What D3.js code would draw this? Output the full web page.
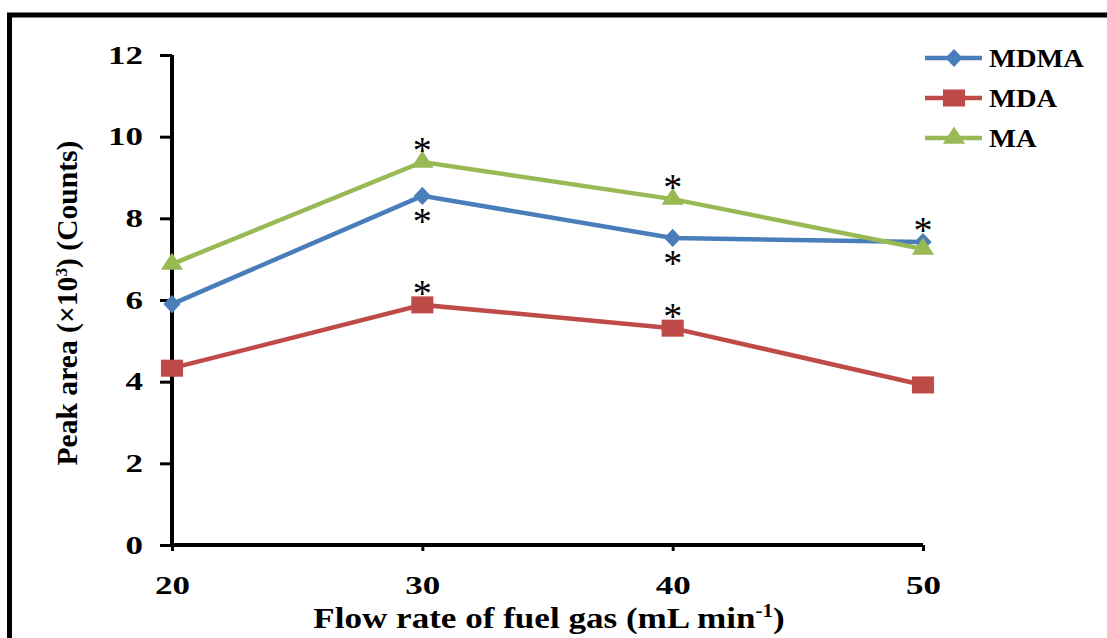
<!DOCTYPE html>
<html>
<head>
<meta charset="utf-8">
<script src="https://cdn.jsdelivr.net/npm/d3@7"></script>
<style>
  body { margin: 0; background: #fff; }
  text { font-family: "Liberation Serif", "Times New Roman", serif; font-weight: bold; }
</style>
</head>
<body>
<script>
// data
var flowRates = [20, 30, 40, 50];
var mdma = [5.90, 8.55, 7.52, 7.42];
var mda = [4.33, 5.88, 5.31, 3.92];
var ma = [6.88, 9.38, 8.47, 7.25];
var yTicks = [0, 2, 4, 6, 8, 10, 12];
// significance marks: [series, x, above?]
var stars = [
    ["MA", 30, true], ["MDMA", 30, false], ["MDA", 30, true],
    ["MA", 40, true], ["MDMA", 40, false], ["MDA", 40, true],
    ["MDMA", 50, true]
];

var w = 1107, h = 638;
var svg = d3.select("body").append("svg")
    .attr("width", w)
    .attr("height", h);

// outer frame (cut off at right and bottom like the original)
svg.append("rect")
    .attr("x", 9.5).attr("y", 15)
    .attr("width", 1200).attr("height", 700)
    .attr("fill", "none")
    .attr("stroke", "#000")
    .attr("stroke-width", 5);

var x = d3.scaleLinear().domain([20, 50]).range([172, 923]);
var y = d3.scaleLinear().domain([0, 12]).range([545, 55]);

var series = [
    { name: "MDMA", values: mdma, color: "#4a7ebb", shape: d3.symbolDiamond, size: 95, sx: 1.65 },
    { name: "MDA", values: mda, color: "#be4b48", shape: d3.symbolSquare, size: 290, sx: 1.3 },
    { name: "MA", values: ma, color: "#98b954", shape: d3.symbolTriangle, size: 170, sx: 1.12 }
];

// tick labels in the original are stretched sideways
function stretchLabels(sel){
    sel.attr("font-size", 26).attr("fill", "#000")
        .attr("textLength", function(d){ return String(d).length * 17.5; })
        .attr("lengthAdjust", "spacingAndGlyphs");
}

// y axis
var yAxis = svg.append("g")
    .attr("transform", "translate(172,0)")
    .call(d3.axisLeft(y).tickValues(yTicks).tickSize(12).tickPadding(17));
yAxis.select(".domain").attr("stroke-width", 4).attr("d", "M0,55V545");
yAxis.selectAll(".tick line").attr("stroke-width", 3);
yAxis.selectAll(".tick text").call(stretchLabels);

// x axis
var xAxis = svg.append("g")
    .attr("transform", "translate(0,545)")
    .call(d3.axisBottom(x).tickValues(flowRates).tickSize(6).tickPadding(25));
xAxis.select(".domain").attr("stroke-width", 4).attr("d", "M172,0H923");
xAxis.selectAll(".tick line").attr("stroke-width", 3);
xAxis.selectAll(".tick text").call(stretchLabels);

// axis titles
var xt = svg.append("text")
    .attr("transform", "translate(549,628) scale(1.17,1)")
    .attr("text-anchor", "middle")
    .attr("font-size", 30);
xt.append("tspan").text("Flow rate of fuel gas (mL min");
xt.append("tspan").attr("dy", -11).attr("font-size", 18).text("-1");
xt.append("tspan").attr("dy", 11).text(")");

var yt = svg.append("text")
    .attr("transform", "translate(77,303) rotate(-90)")
    .attr("text-anchor", "middle")
    .attr("font-size", 29)
    .attr("textLength", 325)
    .attr("lengthAdjust", "spacingAndGlyphs");
yt.append("tspan").text("Peak area (\u00d710");
yt.append("tspan").attr("dy", -10).attr("font-size", 17).text("3");
yt.append("tspan").attr("dy", 10).text(") (Counts)");

// lines and markers
var line = d3.line()
    .x(function(d, i){ return x(flowRates[i]); })
    .y(function(d){ return y(d); });

series.forEach(function(s){
    svg.append("path")
        .datum(s.values)
        .attr("d", line)
        .attr("fill", "none")
        .attr("stroke", s.color)
        .attr("stroke-width", 4.5);
    svg.selectAll(".pt-" + s.name)
        .data(s.values)
        .enter()
        .append("path")
        .attr("class", "pt-" + s.name)
        .attr("transform", function(d, i){
            return "translate(" + x(flowRates[i]) + "," + y(d) + ") scale(" + s.sx + ",1)";
        })
        .attr("d", d3.symbol().type(s.shape).size(s.size))
        .attr("fill", s.color);
});

// asterisks
svg.selectAll(".star")
    .data(stars)
    .enter()
    .append("text")
    .attr("class", "star")
    .attr("x", function(d){ return x(d[1]); })
    .attr("y", function(d){
        var s = series.find(function(e){ return e.name === d[0]; });
        var v = s.values[flowRates.indexOf(d[1])];
        return y(v) + (d[2] ? 1 : 38);
    })
    .attr("text-anchor", "middle")
    .attr("font-size", 38)
    .style("font-weight", "normal")
    .text("*");

// legend
var legend = svg.selectAll(".legend")
    .data(series)
    .enter()
    .append("g")
    .attr("class", "legend")
    .attr("transform", function(d, i){ return "translate(925," + (58 + i * 40) + ")"; });
legend.append("line")
    .attr("x1", 0).attr("x2", 57)
    .attr("stroke", function(d){ return d.color; })
    .attr("stroke-width", 4.5);
legend.append("path")
    .attr("transform", function(d){ return "translate(29,0) scale(" + d.sx + ",1)"; })
    .attr("d", function(d){ return d3.symbol().type(d.shape).size(d.size)(); })
    .attr("fill", function(d){ return d.color; });
legend.append("text")
    .attr("transform", "translate(64,9) scale(1.14,1)")
    .attr("font-size", 25)
    .text(function(d){ return d.name; });
</script>
</body>
</html>
